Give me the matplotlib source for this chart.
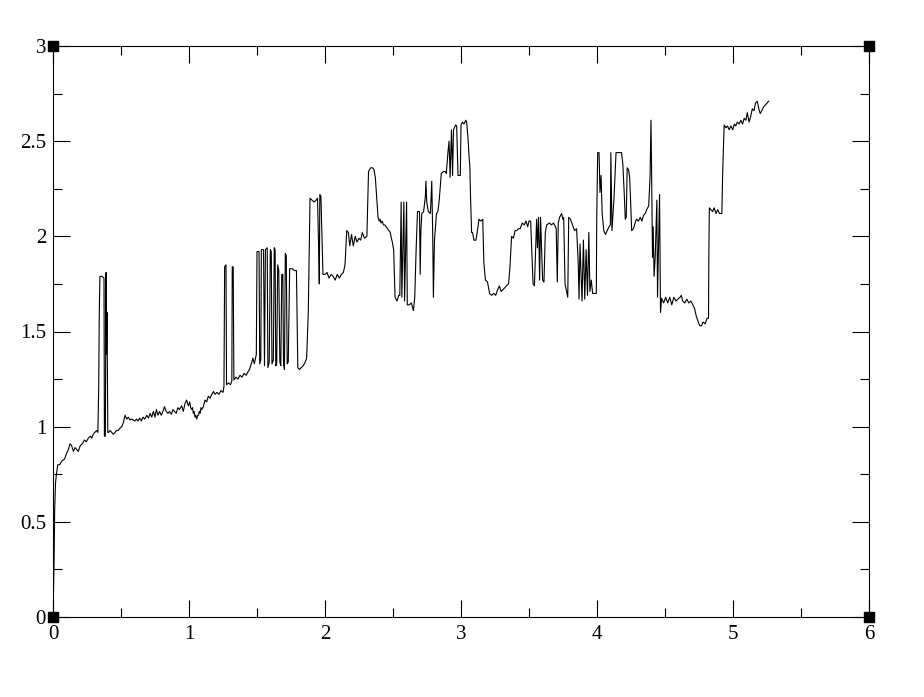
import matplotlib
matplotlib.use("Agg")
import matplotlib.pyplot as plt
from matplotlib.ticker import MultipleLocator, FormatStrFormatter

pts = [
(0.000,0.00),(0.008,0.30),(0.012,0.55),(0.018,0.70),(0.025,0.75),(0.035,0.80),(0.049,0.80),(0.065,0.82),
(0.085,0.83),(0.100,0.86),(0.113,0.88),(0.125,0.91),(0.137,0.90),(0.150,0.87),(0.162,0.89),(0.175,0.88),
(0.186,0.87),(0.200,0.90),(0.215,0.91),(0.232,0.93),(0.245,0.92),(0.260,0.94),(0.275,0.95),(0.285,0.94),
(0.296,0.96),(0.308,0.97),(0.320,0.98),(0.330,0.97),(0.336,1.20),(0.340,1.58),(0.345,1.79),(0.360,1.79),
(0.375,1.78),(0.378,0.95),(0.385,0.95),(0.390,1.81),(0.393,1.38),(0.397,1.60),(0.403,0.97),(0.410,0.97),
(0.420,0.98),(0.432,0.97),(0.443,0.96),(0.455,0.97),(0.468,0.98),(0.480,0.98),(0.490,0.99),(0.505,1.00),
(0.517,1.02),(0.530,1.06),(0.542,1.04),(0.554,1.05),(0.566,1.035),(0.578,1.04),(0.590,1.035),(0.602,1.03),
(0.614,1.04),(0.626,1.03),(0.638,1.045),(0.650,1.03),(0.662,1.05),(0.675,1.04),(0.690,1.06),(0.702,1.045),
(0.714,1.07),(0.726,1.05),(0.738,1.08),(0.750,1.05),(0.760,1.09),(0.772,1.06),(0.784,1.08),(0.796,1.06),
(0.808,1.08),(0.820,1.105),(0.832,1.08),(0.845,1.07),(0.857,1.08),(0.870,1.065),(0.882,1.09),(0.894,1.08),
(0.906,1.07),(0.918,1.10),(0.930,1.09),(0.946,1.11),(0.958,1.08),(0.970,1.12),(0.982,1.14),(0.995,1.11),
(1.005,1.13),(1.012,1.10),(1.020,1.09),(1.026,1.10),(1.032,1.07),(1.038,1.08),(1.044,1.05),(1.050,1.06),
(1.057,1.04),(1.064,1.06),(1.070,1.06),(1.076,1.08),(1.082,1.07),(1.088,1.10),(1.094,1.09),
(1.105,1.105),(1.118,1.14),(1.130,1.13),(1.142,1.16),(1.155,1.15),(1.168,1.17),(1.180,1.185),(1.192,1.17),
(1.205,1.18),(1.220,1.17),(1.235,1.19),(1.250,1.18),(1.257,1.21),(1.262,1.84),(1.272,1.85),(1.276,1.22),
(1.290,1.23),(1.305,1.22),(1.315,1.24),(1.318,1.84),(1.325,1.84),(1.330,1.245),(1.345,1.26),(1.360,1.25),
(1.375,1.27),(1.390,1.26),(1.405,1.28),(1.420,1.27),(1.435,1.29),(1.445,1.30),(1.458,1.33),(1.470,1.36),
(1.480,1.33),(1.495,1.38),(1.500,1.92),(1.515,1.92),(1.520,1.33),(1.528,1.35),(1.532,1.93),(1.548,1.93),
(1.555,1.32),(1.562,1.93),(1.575,1.94),(1.580,1.31),(1.590,1.34),(1.598,1.93),(1.605,1.92),(1.610,1.33),
(1.620,1.35),(1.627,1.94),(1.633,1.93),(1.638,1.32),(1.645,1.33),(1.652,1.85),(1.660,1.82),(1.668,1.34),
(1.675,1.32),(1.682,1.80),(1.690,1.80),(1.695,1.33),(1.702,1.30),(1.708,1.91),(1.715,1.90),(1.722,1.33),
(1.730,1.34),(1.740,1.83),(1.760,1.83),(1.775,1.82),(1.790,1.82),(1.800,1.31),(1.812,1.30),(1.825,1.31),
(1.840,1.32),(1.855,1.34),(1.865,1.36),(1.877,1.60),(1.890,2.20),(1.905,2.19),(1.920,2.18),(1.935,2.19),
(1.945,2.20),(1.955,1.88),(1.958,1.75),(1.962,2.22),(1.970,2.21),(1.978,1.98),(1.985,1.80),(2.000,1.80),
(2.015,1.81),(2.030,1.78),(2.045,1.80),(2.060,1.79),(2.075,1.77),(2.090,1.80),(2.105,1.78),(2.120,1.80),
(2.135,1.81),(2.147,1.85),(2.160,2.03),(2.172,2.02),(2.182,1.95),(2.195,2.01),(2.208,1.95),(2.222,2.00),
(2.235,1.97),(2.250,1.99),(2.262,1.98),(2.275,2.02),(2.290,1.99),(2.308,2.00),(2.320,2.34),(2.335,2.36),
(2.350,2.36),(2.360,2.35),(2.370,2.31),(2.390,2.10),(2.398,2.08),(2.405,2.09),(2.412,2.07),(2.420,2.08),
(2.430,2.06),(2.440,2.06),(2.450,2.05),(2.460,2.04),(2.470,2.03),(2.480,2.02),(2.488,1.99),(2.495,1.97),
(2.505,1.93),(2.515,1.68),(2.530,1.66),(2.542,1.69),(2.550,1.69),(2.560,2.18),
(2.565,1.68),(2.580,2.18),(2.585,1.66),(2.600,2.18),(2.605,1.64),(2.620,1.64),(2.635,1.65),(2.650,1.61),
(2.660,1.68),(2.670,1.93),(2.680,2.13),(2.695,2.13),(2.700,1.80),(2.705,2.03),(2.712,2.12),(2.725,2.13),
(2.738,2.21),(2.742,2.29),(2.748,2.18),(2.760,2.13),(2.775,2.12),(2.785,2.29),(2.792,2.01),(2.797,1.68),
(2.805,1.98),(2.820,2.12),(2.830,2.13),(2.840,2.19),(2.855,2.33),(2.870,2.34),(2.885,2.34),(2.892,2.33),
(2.905,2.45),(2.912,2.50),(2.920,2.31),(2.930,2.56),(2.938,2.32),(2.945,2.56),(2.960,2.585),(2.968,2.58),
(2.978,2.32),(2.995,2.32),(3.000,2.585),(3.010,2.60),(3.022,2.59),(3.035,2.61),(3.042,2.60),(3.054,2.49),
(3.060,2.41),(3.065,2.37),(3.070,2.21),(3.078,2.02),(3.085,2.02),(3.095,1.98),(3.110,1.98),(3.125,2.05),
(3.132,2.09),(3.145,2.08),(3.160,2.09),(3.168,1.86),(3.180,1.77),(3.195,1.76),(3.210,1.70),(3.225,1.69),
(3.240,1.70),(3.255,1.69),(3.270,1.72),(3.282,1.74),(3.295,1.71),(3.308,1.72),(3.320,1.73),(3.335,1.74),
(3.350,1.75),(3.360,1.84),(3.372,2.00),(3.385,1.99),(3.398,2.03),(3.410,2.03),(3.422,2.04),(3.435,2.04),
(3.450,2.07),(3.465,2.06),(3.478,2.08),(3.490,2.05),(3.500,2.08),(3.512,2.08),(3.530,1.75),(3.540,1.74),
(3.556,2.09),(3.562,1.94),(3.570,2.10),(3.578,1.77),(3.585,2.10),(3.600,1.77),(3.610,1.76),(3.620,2.02),
(3.630,2.06),(3.650,2.07),(3.665,2.06),(3.680,2.07),(3.695,2.05),(3.700,2.04),(3.708,1.76),(3.715,2.07),
(3.725,2.10),(3.740,2.12),(3.748,2.09),(3.755,2.10),(3.765,1.75),(3.785,1.68),(3.792,2.10),(3.805,2.09),
(3.820,2.06),(3.835,2.03),(3.850,2.04),(3.862,1.86),(3.868,1.67),(3.875,1.96),(3.890,1.66),(3.900,1.98),
(3.910,1.67),(3.920,1.93),(3.930,1.69),(3.940,2.02),(3.948,1.71),(3.958,1.77),(3.968,1.70),(3.985,1.70),
(3.995,1.70),(3.998,2.09),(4.005,2.44),(4.015,2.44),(4.022,2.23),(4.030,2.32),(4.038,2.12),(4.050,2.03),
(4.062,2.01),(4.075,2.03),(4.088,2.05),(4.098,2.06),(4.102,2.44),(4.110,2.03),(4.125,2.20),(4.140,2.44),
(4.160,2.44),(4.180,2.44),(4.190,2.38),(4.200,2.23),(4.208,2.09),(4.215,2.10),(4.222,2.36),(4.232,2.35),
(4.240,2.31),(4.248,2.17),(4.255,2.03),(4.268,2.04),(4.280,2.07),(4.290,2.09),(4.305,2.08),(4.318,2.10),
(4.330,2.08),(4.342,2.11),(4.355,2.12),(4.365,2.14),(4.380,2.16),(4.390,2.31),(4.397,2.61),(4.402,2.31),
(4.408,1.89),(4.413,2.05),(4.420,1.79),(4.428,1.89),(4.440,2.19),(4.445,1.68),(4.452,1.93),(4.460,2.22),
(4.467,1.60),(4.475,1.675),(4.490,1.65),(4.505,1.68),(4.520,1.65),(4.535,1.68),(4.550,1.64),(4.565,1.68),
(4.580,1.66),(4.595,1.67),(4.610,1.68),(4.620,1.69),(4.630,1.66),(4.645,1.65),(4.660,1.67),(4.675,1.65),
(4.690,1.66),(4.705,1.64),(4.718,1.62),(4.730,1.58),(4.745,1.55),(4.755,1.53),(4.768,1.53),(4.780,1.55),
(4.795,1.54),(4.810,1.57),(4.820,1.57),(4.822,1.86),(4.826,2.15),(4.838,2.14),(4.850,2.13),(4.862,2.15),
(4.875,2.12),(4.888,2.14),(4.900,2.12),(4.918,2.12),(4.925,2.36),(4.935,2.585),(4.948,2.57),(4.960,2.58),
(4.972,2.56),(4.985,2.58),(4.998,2.56),(5.010,2.59),(5.020,2.58),(5.032,2.60),(5.045,2.59),(5.058,2.61),
(5.070,2.59),(5.082,2.62),(5.095,2.61),(5.105,2.65),(5.118,2.60),(5.130,2.63),(5.142,2.67),(5.155,2.66),
(5.165,2.70),(5.178,2.71),(5.190,2.67),(5.200,2.645),(5.212,2.66),(5.225,2.68),(5.238,2.69),(5.250,2.70),
(5.262,2.71),
]
x_values = [p[0] for p in pts]
y_values = [p[1] for p in pts]

x_ticks = [0, 1, 2, 3, 4, 5, 6]
y_ticks = [0, 0.5, 1, 1.5, 2, 2.5, 3]

plt.rcParams['font.family'] = ['Liberation Serif', 'DejaVu Serif']

fig = plt.figure(figsize=(9.24, 6.97), dpi=100)
ax = fig.add_axes([53/924, 1-617/697, (869-53)/924, (617-46)/697])
ax.plot(x_values, y_values, color='black', lw=0.8)
ax.set_xlim(0, 6)
ax.set_ylim(0, 3)
ax.set_xticks(x_ticks)
ax.set_yticks(y_ticks)
ax.xaxis.set_minor_locator(MultipleLocator(0.5))
ax.yaxis.set_minor_locator(MultipleLocator(0.25))
ax.xaxis.set_major_formatter(FormatStrFormatter('%g'))
ax.yaxis.set_major_formatter(FormatStrFormatter('%g'))
ax.tick_params(which='both', direction='in', top=True, right=True, width=0.8, labelsize=15, colors='black')
ax.tick_params(which='major', length=12.5, pad=6)
ax.tick_params(which='minor', length=6.5)
ax.tick_params(axis='y', pad=5)
for s in ax.spines.values():
    s.set_linewidth(0.8)
for cx in (0, 1):
    for cy in (0, 1):
        ax.plot([cx], [cy], marker='s', ms=6.5, color='black', transform=ax.transAxes, clip_on=False, zorder=5)

fig.savefig('out.png', dpi=100)
